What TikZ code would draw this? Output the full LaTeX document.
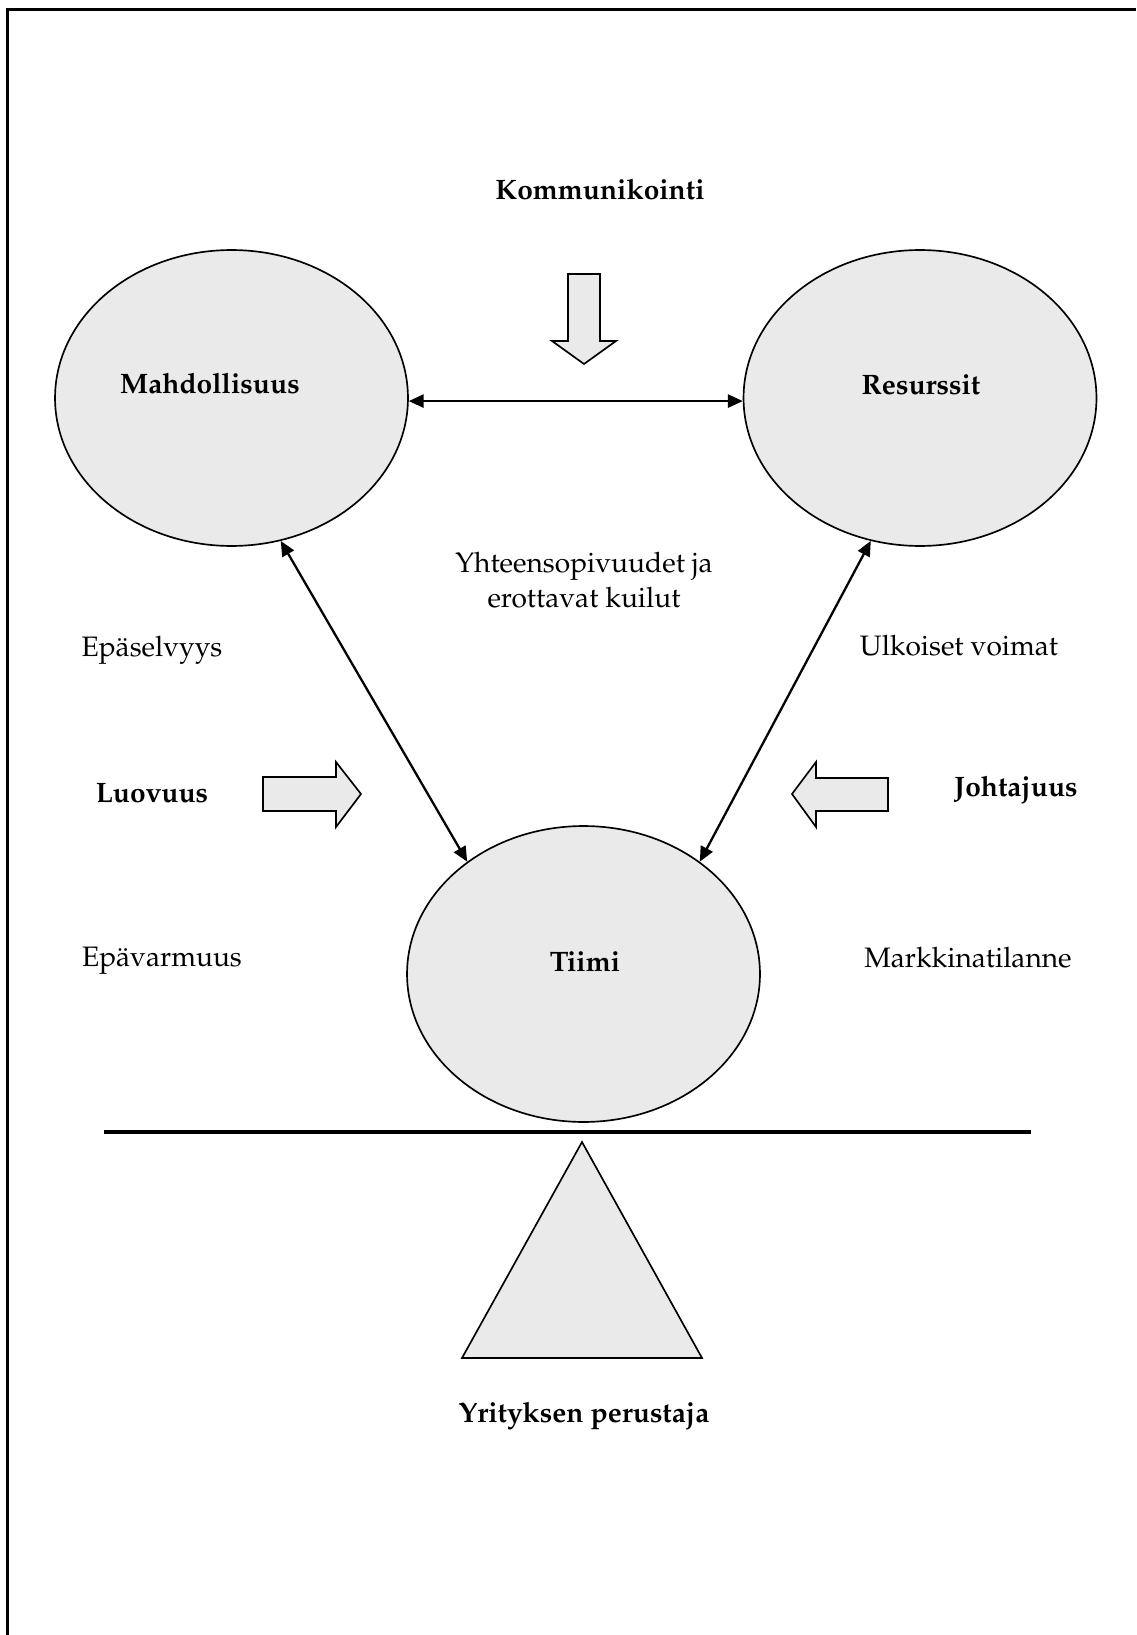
\documentclass[tikz,border=0pt]{standalone}
\usepackage[T1]{fontenc}
\usepackage{mathpazo}
\usepackage{xcolor}
\usepackage{tikz}
\usetikzlibrary{arrows.meta,shapes.geometric}

\definecolor{lightshade}{HTML}{EAEAEA}

\tikzset{
  blob/.style={draw, ellipse, fill=lightshade, line width=0.95pt,
    minimum width=7.06cm, minimum height=5.92cm, inner sep=0pt},
  link/.style={{Triangle[length=8.5pt,width=7.5pt]}-{Triangle[length=8.5pt,width=7.5pt]}, line width=1.3pt},
  blockarrow/.style={draw, fill=lightshade, line width=0.95pt, line join=miter},
  word/.style={inner sep=0pt, font=\fontsize{16}{19.6}\selectfont, align=center},
  keyword/.style={word, font=\fontsize{16}{19.6}\selectfont\bfseries}
}

\begin{document}
\begin{tikzpicture}[x=0.02cm, y=-0.02cm]
  \useasboundingbox (0,0) rectangle (1136,1635);

  % frame (cut off on the right and at the bottom)
  \draw[line width=1.7pt] (7.5,1635) -- (7.5,9.5) -- (1136,9.5);

  % the three ellipses
  \node[blob] (mahd) at (231.5,398) {};
  \node[blob] (res) at (920,398) {};
  \node[blob] (tiimi) at (583.5,974) {};

  \node[keyword] (mahdtxt) at (210,384) {Mahdollisuus};
  \node[keyword] (restxt) at (921,385) {Resurssit};
  \node[keyword] (tiimitxt) at (585,962) {Tiimi};

  % links between them
  \draw[link] (mahd.-1) -- (res.181);
  \draw[link] (mahd.-71) -- (tiimi.136);
  \draw[link] (res.-109) -- (tiimi.44);

  % block arrows
  \draw[blockarrow] (568,274) -- (600,274) -- (600,341) -- (616,341) -- (584,364)
    -- (552,341) -- (568,341) -- cycle;
  \draw[blockarrow] (263,777) -- (336,777) -- (336,762) -- (361,794) -- (336,827)
    -- (336,811) -- (263,811) -- cycle;
  \draw[blockarrow] (888,778) -- (816,778) -- (816,762) -- (792,794) -- (816,827)
    -- (816,811) -- (888,811) -- cycle;

  % texts
  \node[keyword] (komm) at (600,190) {Kommunikointi};
  \node[word] (yhteen) at (584,580) {Yhteensopivuudet ja\\erottavat kuilut};
  \node[word] (epasel) at (152,650) {Epäselvyys};
  \node[word] (ulkoiset) at (959,646) {Ulkoiset voimat};
  \node[keyword] (luovuus) at (152,793) {Luovuus};
  \node[keyword] (johtajuus) at (1016,790) {Johtajuus};
  \node[word] (epavarm) at (162,961) {Epävarmuus};
  \node[word] (markkina) at (968,958) {Markkinatilanne};

  % fulcrum
  \draw[line width=2pt] (104,1132) -- (1031,1132);
  \draw[blockarrow] (582,1142) -- (702,1358) -- (462,1358) -- cycle;
  \node[keyword] (perustaja) at (584,1416) {Yrityksen perustaja};
\end{tikzpicture}
\end{document}
